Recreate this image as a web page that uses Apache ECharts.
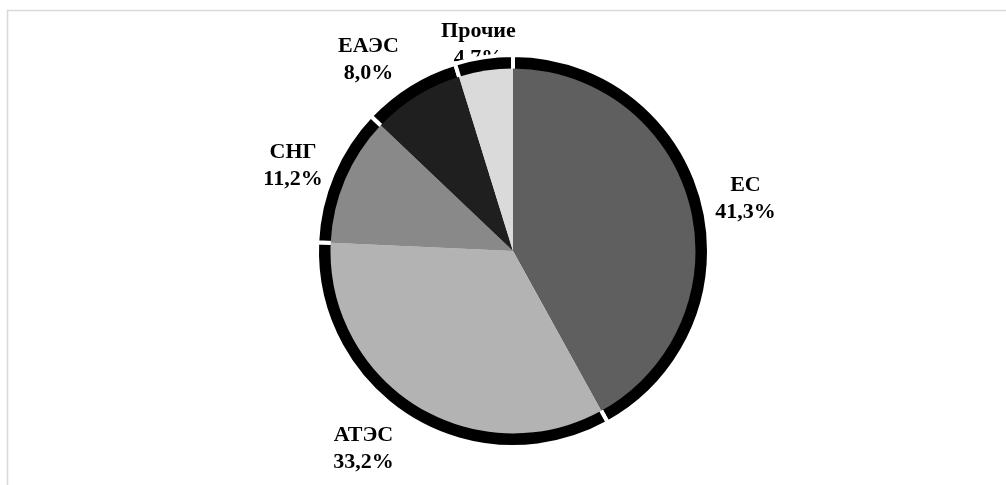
<!DOCTYPE html>
<html>
<head>
<meta charset="utf-8">
<script src="https://cdn.jsdelivr.net/npm/echarts@6/dist/echarts.min.js"></script>
<style>
html,body{margin:0;padding:0;background:#fff;}
#chart{width:1006px;height:485px;}
</style>
</head>
<body>
<div id="chart"></div>
<script>
// Data
var categories = ['ЕС', 'АТЭС', 'СНГ', 'ЕАЭС', 'Прочие'];
var shares = [41.3, 33.2, 11.2, 8.0, 4.7];

// Styling (kept apart from the data)
var sliceColors = ['#5f5f5f', '#b3b3b3', '#898989', '#1f1f1f', '#dadada'];
var labelNudge = [[2, 7], [-24, -4], [-1, 8], [-19, 11], [1, 29]];

var center = [513, 251];

function buildData(colorFn) {
  return categories.map(function (c, i) {
    return { name: c, value: shares[i], itemStyle: { color: colorFn(i) } };
  });
}

var chart = echarts.init(document.getElementById('chart'), null, { renderer: 'canvas' });
chart.setOption({
  backgroundColor: '#ffffff',
  animation: false,
  graphic: [{
    type: 'polyline',
    silent: true,
    shape: { points: [[7.5, 485], [7.5, 10.5], [1006, 10.5]] },
    style: { stroke: '#d9d9d9', lineWidth: 1.6, fill: null },
    z: 0
  }],
  series: [
    {
      // label carrier (drawn below the shadow ring)
      type: 'pie',
      z: 1,
      silent: true,
      center: center,
      radius: [205, 265],
      startAngle: 90,
      clockwise: true,
      data: buildData(function () { return 'rgba(0,0,0,0)'; }),
      label: {
        show: true,
        position: 'inside',
        color: '#000',
        fontFamily: '"Liberation Serif", "Times New Roman", serif',
        fontWeight: 'bold',
        fontSize: 22,
        lineHeight: 27,
        align: 'center',
        formatter: function (p) {
          return p.name + '\n' + shares[p.dataIndex].toFixed(1).replace('.', ',') + '%';
        }
      },
      labelLine: { show: false },
      labelLayout: function (p) {
        var n = labelNudge[p.dataIndex];
        return { dx: n[0], dy: n[1] };
      }
    },
    {
      // black shadow ring
      type: 'pie',
      z: 2,
      silent: true,
      center: center,
      radius: [0, 196],
      startAngle: 90,
      clockwise: true,
      data: buildData(function () { return '#000000'; }),
      itemStyle: { borderColor: '#ffffff', borderWidth: 4 },
      label: { show: false },
      labelLine: { show: false }
    },
    {
      type: 'pie',
      z: 3,
      silent: true,
      center: center,
      radius: [0, 182.5],
      startAngle: 90,
      clockwise: true,
      data: buildData(function (i) { return sliceColors[i]; }),
      itemStyle: { borderWidth: 0 },
      label: { show: false },
      labelLine: { show: false }
    }
  ]
});
</script>
</body>
</html>
